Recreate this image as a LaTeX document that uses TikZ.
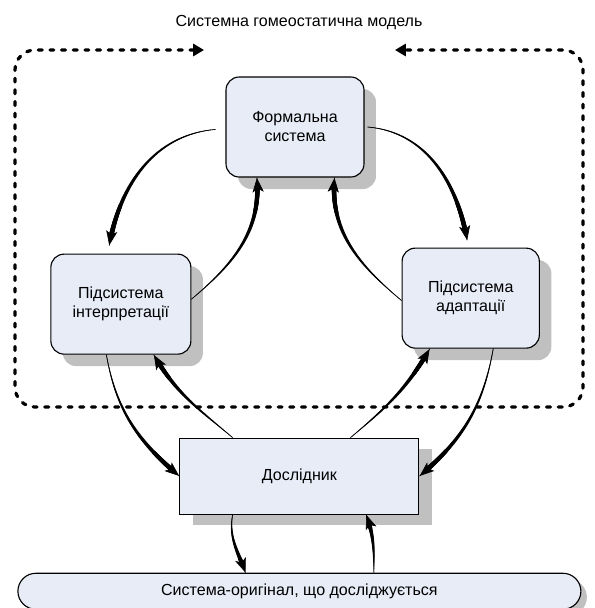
\documentclass[tikz,border=0pt]{standalone}
\usepackage{fontspec}
\setmainfont{Liberation Sans}
\usetikzlibrary{positioning, arrows.meta, shadows, decorations.markings, calc}
\definecolor{boxfill}{RGB}{231,236,247}
\definecolor{shadowgray}{RGB}{192,192,192}
\tikzset{
  subsys/.style={rectangle, rounded corners=0.33cm, minimum width=3.45cm, minimum height=2.5cm, align=center, draw=black, line width=0.8pt, fill=boxfill, drop shadow={shadow xshift=0.3cm, shadow yshift=-0.3cm, fill=shadowgray, opacity=1}},
  resbox/.style={rectangle, minimum width=5.975cm, minimum height=1.9cm, align=center, draw=black, line width=0.8pt, fill=boxfill, drop shadow={shadow xshift=0.32cm, shadow yshift=-0.28cm, fill=shadowgray, opacity=1}},
  origbox/.style={rectangle, rounded corners=0.45cm, minimum width=14.075cm, minimum height=0.9cm, align=center, draw=black, line width=0.8pt, fill=boxfill, drop shadow={shadow xshift=0.15cm, shadow yshift=-0.15cm, fill=shadowgray, opacity=1}},
  frame/.style={{Triangle[length=0.27cm,width=0.3cm]}-{Triangle[length=0.27cm,width=0.3cm]}, line width=2.3pt, line cap=round, dash pattern=on 2.8pt off 5.5pt, rounded corners=0.5cm},
  % flecha que se ensancha hacia la punta
  flow/.style={draw, line width=0.45pt, postaction={decorate, decoration={markings,
      mark=between positions 0 and -0.2cm step 0.4pt with {%
        \pgfmathsetmacro\rr{0.2+1.6*\pgfkeysvalueof{/pgf/decoration/mark info/distance from start}/\pgfdecoratedpathlength}%
        \fill (0,0) circle[radius=\rr pt];},
      mark=at position 1 with {\arrow{Stealth[length=0.36cm,width=0.28cm,inset=0.09cm]}}}}}
}

\begin{document}
\begin{tikzpicture}[
    node distance=5mm and 10mm,
    every node/.style={font=\fontsize{11.4}{13.5}\selectfont}
  ]
  \useasboundingbox (-7.375,3.175) rectangle (7.5,-12.025);

  % --- Bloques ---
  \node (formal) [subsys] {Формальна\\ система};
  \node (interp) [subsys, below left=1.9cm and 0.85cm of formal, minimum width=3.5cm] {Підсистема\\ інтерпретації};
  \node (adapt) [subsys, below right=1.75cm and 0.925cm of formal, minimum width=3.43cm] {Підсистема\\ адаптації};
  \node (res) [resbox, below=6.5cm of formal, xshift=0.11cm] {Дослідник};
  \node (orig) [origbox, below=1.45cm of res] {Система-оригінал, що досліджується};
  \node (title) [above=1.05cm of formal, xshift=0.1cm] {Системна гомеостатична модель};

  % --- Marco punteado del modelo ---
  \draw [frame] (-2.275,1.925) -- (-7,1.925) -- (-7,-7) -- (7.2,-7) -- (7.2,1.925) -- (2.5,1.925);

  % --- Ciclo superior ---
  \draw [flow] ($(formal.182)+(-0.25,0)$) to[out=185, in=80] ($(interp.103)+(0,0.2)$);
  \draw [flow] (interp.4) to[out=40, in=-85] (formal.233);
  \draw [flow] ($(formal.east)+(0.08,0)$) to[out=-5, in=100] ($(adapt.94)+(0,0.18)$);
  \draw [flow] (adapt.182) to[out=140, in=-95] (formal.-52);

  % --- Subsistemas e investigador ---
  \draw [flow] (interp.254) to[out=-80, in=140] (res.west);
  \draw [flow] (res.150) to[out=140, in=-60] (interp.-57);
  \draw [flow] (res.37) to[out=40, in=-120] (adapt.231);
  \draw [flow] (adapt.-66) to[out=-100, in=40] (res.east);

  % --- Investigador y sistema original ---
  \draw [flow] (res.210) to[out=-100, in=110] (orig.161);
  \draw [flow] (orig.14) to[out=90, in=-70] (res.-30);
\end{tikzpicture}
\end{document}
